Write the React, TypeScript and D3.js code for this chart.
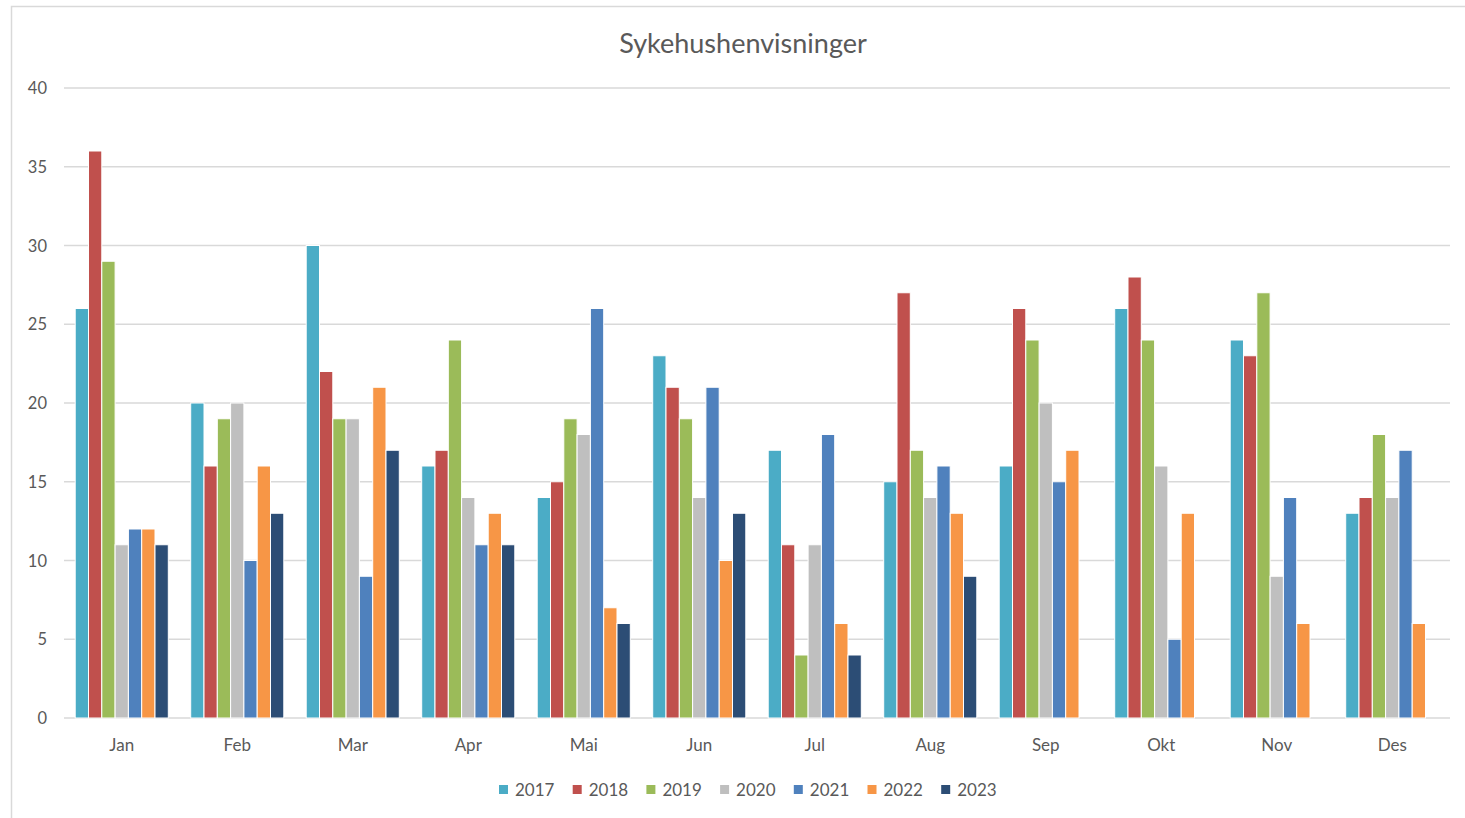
import React, { useEffect, useRef } from 'react';
import * as d3 from 'd3';

const months = ['Jan', 'Feb', 'Mar', 'Apr', 'Mai', 'Jun', 'Jul', 'Aug', 'Sep', 'Okt', 'Nov', 'Des'];
const years = ['2017', '2018', '2019', '2020', '2021', '2022', '2023'];
const colors = ['#4BACC6', '#C0504D', '#9BBB59', '#BFBFBF', '#4F81BD', '#F79646', '#2C4D75'];

const v2017 = [26, 20, 30, 16, 14, 23, 17, 15, 16, 26, 24, 13];
const v2018 = [36, 16, 22, 17, 15, 21, 11, 27, 26, 28, 23, 14];
const v2019 = [29, 19, 19, 24, 19, 19, 4, 17, 24, 24, 27, 18];
const v2020 = [11, 20, 19, 14, 18, 14, 11, 14, 20, 16, 9, 14];
const v2021 = [12, 10, 9, 11, 26, 21, 18, 16, 15, 5, 14, 17];
const v2022 = [12, 16, 21, 13, 7, 10, 6, 13, 17, 13, 6, 6];
const v2023 = [11, 13, 17, 11, 6, 13, 4, 9, null, null, null, null];
const series = [v2017, v2018, v2019, v2020, v2021, v2022, v2023];

const yTicks = [0, 5, 10, 15, 20, 25, 30, 35, 40];

const W = 1465;
const H = 818;
const FONT = 'Lato, "Open Sans", sans-serif';

export default function App() {
  const ref = useRef<SVGSVGElement>(null);

  useEffect(() => {
    const svg = d3.select(ref.current);
    svg.selectAll('*').remove();

    const left = 64, right = 1450, top = 88, bottom = 718;

    // chart frame
    svg.append('rect')
      .attr('x', 11.5).attr('y', 6.5)
      .attr('width', W).attr('height', H)
      .attr('fill', 'white')
      .attr('stroke', '#d9d9d9')
      .attr('stroke-width', 1.5);

    const x = d3.scaleBand().domain(months).range([left, right]).padding(0);
    const y = d3.scaleLinear().domain([0, 40]).range([bottom, top]);
    const slot = 13.3;
    const xs = d3.scaleBand().domain(years)
      .range([-slot * 3.5, slot * 3.5]).padding(0);

    // grid
    svg.append('g').selectAll('line').data(yTicks).enter().append('line')
      .attr('x1', left).attr('x2', right)
      .attr('y1', d => y(d)).attr('y2', d => y(d))
      .attr('stroke', '#d9d9d9').attr('stroke-width', 1.5);

    svg.append('g').selectAll('text').data(yTicks).enter().append('text')
      .attr('x', 47).attr('y', d => y(d) + 6)
      .attr('text-anchor', 'end')
      .attr('fill', '#595959')
      .style('font-family', FONT).style('font-size', '16.5px')
      .text(d => d);

    // bars
    years.forEach((yr, si) => {
      const vals = series[si];
      svg.append('g').selectAll('rect')
        .data(months.map((m, i) => ({ m, v: vals[i] })).filter(d => d.v != null))
        .enter().append('rect')
        .attr('x', d => (x(d.m) as number) + x.bandwidth() / 2 + (xs(yr) as number))
        .attr('y', d => y(d.v as number))
        .attr('width', xs.bandwidth())
        .attr('height', d => y(0) - y(d.v as number))
        .attr('fill', colors[si])
        .attr('stroke', 'white')
        .attr('stroke-width', 1);
    });

    // month labels
    svg.append('g').selectAll('text').data(months).enter().append('text')
      .attr('x', d => (x(d) as number) + x.bandwidth() / 2)
      .attr('y', 751)
      .attr('text-anchor', 'middle')
      .attr('fill', '#595959')
      .style('font-family', FONT).style('font-size', '17px')
      .text(d => d);

    // title
    svg.append('text')
      .attr('x', 743).attr('y', 53)
      .attr('text-anchor', 'middle')
      .attr('fill', '#595959')
      .style('font-family', FONT).style('font-size', '27px')
      .text('Sykehushenvisninger');

    // legend
    const lg = svg.append('g');
    years.forEach((yr, i) => {
      const lx = 499 + i * 73.7;
      lg.append('rect')
        .attr('x', lx).attr('y', 785)
        .attr('width', 9).attr('height', 9)
        .attr('fill', colors[i]);
      lg.append('text')
        .attr('x', lx + 16).attr('y', 796)
        .attr('fill', '#595959')
        .style('font-family', FONT).style('font-size', '17px')
        .text(yr);
    });
  }, []);

  return (
    <svg ref={ref} width={W} height={H}
      style={{ position: 'absolute', left: 0, top: 0, background: 'white' }} />
  );
}
